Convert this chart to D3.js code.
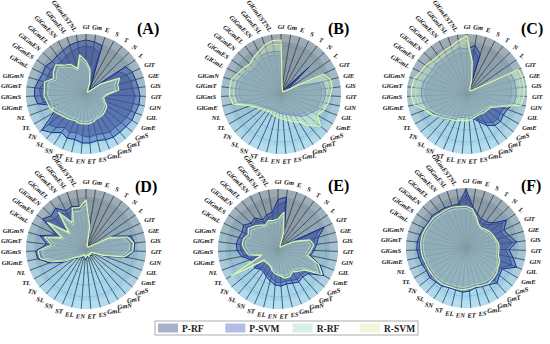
<!DOCTYPE html>
<html>
<head>
<meta charset="utf-8">
<script src="https://cdn.jsdelivr.net/npm/d3@7"></script>
<style>
html, body { margin: 0; padding: 0; background: #fff; }
svg { display: block; font-family: "Liberation Serif", "Times New Roman", serif; }
</style>
</head>
<body>
<svg id="chart" width="550" height="344"></svg>
<script>
const categories = ['Gl', 'Gm', 'E', 'S', 'T', 'N', 'L', 'GlT', 'GlE', 'GlS', 'GlT', 'GlN', 'GlL',
  'GmE', 'GmS', 'GmT', 'GmN', 'GmL', 'ES', 'ET', 'EN', 'EL', 'ST', 'SN', 'SL', 'TN', 'TL', 'NL',
  'GlGmE', 'GlGmS', 'GlGmT', 'GlGmN', 'GlGmL', 'GlGmES', 'GlGmEN', 'GlGmEL', 'GlGmESN', 'GlGmESL', 'GlGmESTNL'];

const seriesNames = ['P-RF', 'P-SVM', 'R-RF', 'R-SVM'];

// values, 0 = centre, 1 = rim
const A_PRF = [.8,.78,.72,.15,.08,.1,.66,.75,.78,.78,.82,.8,.8,.78,.76,.74,.75,.72,.7,.72,.7,.66,.7,.66,.75,.8,.55,.5,.72,.76,.78,.72,.7,.72,.7,.68,.72,.75,.78];
const A_PSVM = [.9,.88,.85,.2,.1,.12,.8,.85,.86,.88,.9,.9,.88,.88,.86,.85,.85,.83,.8,.82,.82,.78,.8,.76,.86,.95,.62,.55,.82,.86,.86,.82,.8,.82,.78,.8,.82,.86,.88];
const A_RRF = [.5,.38,.18,.05,.04,.05,.28,.56,.5,.5,.32,.28,.3,.36,.38,.4,.42,.42,.44,.46,.46,.46,.44,.46,.48,.5,.55,.6,.6,.64,.64,.66,.55,.6,.64,.56,.5,.42,.6];
const A_RSVM = [.55,.42,.2,.05,.04,.05,.3,.62,.55,.55,.35,.3,.33,.4,.42,.44,.45,.45,.48,.5,.5,.5,.48,.5,.52,.55,.6,.65,.66,.7,.7,.72,.6,.66,.7,.6,.56,.45,.66];

const B_PRF = [.64,.14,.09,.07,.08,.58,.1,.28,.66,.68,.68,.66,.64,.55,.5,.46,.38,.35,.32,.3,.3,.28,.28,.28,.3,.33,.38,.46,.66,.7,.7,.7,.66,.64,.6,.64,.66,.66,.66];
const B_PSVM = [.7,.15,.1,.08,.1,.65,.12,.3,.72,.74,.74,.72,.7,.6,.55,.5,.42,.38,.35,.33,.32,.3,.3,.3,.33,.36,.42,.5,.72,.75,.76,.76,.72,.7,.66,.7,.72,.72,.72];
const B_RRF = [.82,.11,.07,.05,.05,.05,.09,.72,.8,.8,.76,.74,.7,.65,.78,.64,.5,.46,.42,.39,.37,.35,.33,.32,.35,.37,.42,.5,.76,.8,.8,.8,.74,.7,.66,.7,.74,.8,.84];
const B_RSVM = [.9,.12,.08,.06,.05,.06,.1,.78,.86,.86,.82,.8,.76,.7,.85,.7,.55,.5,.45,.42,.4,.38,.36,.35,.38,.4,.45,.55,.82,.86,.86,.86,.8,.76,.72,.76,.8,.86,.9];

const C_PRF = [.68,.75,.62,.09,.07,.09,.13,.72,.75,.75,.75,.72,.66,.64,.66,.64,.56,.46,.38,.36,.36,.36,.4,.45,.5,.55,.6,.64,.68,.7,.7,.68,.66,.64,.66,.64,.66,.68,.7];
const C_PSVM = [.75,.82,.7,.1,.08,.1,.15,.8,.82,.82,.82,.8,.72,.7,.72,.7,.62,.5,.42,.4,.4,.4,.45,.5,.55,.6,.65,.7,.74,.76,.76,.75,.72,.7,.72,.7,.72,.74,.78];
const C_RRF = [.9,.52,.22,.09,.07,.07,.11,.88,.9,.9,.88,.85,.56,.42,.4,.38,.37,.37,.39,.4,.42,.42,.44,.46,.5,.55,.62,.7,.82,.86,.86,.84,.8,.78,.75,.75,.76,.78,.84];
const C_RSVM = [.97,.55,.25,.1,.08,.08,.12,.95,.96,.96,.95,.92,.6,.45,.43,.42,.4,.4,.42,.44,.45,.45,.48,.5,.55,.6,.68,.75,.9,.93,.93,.92,.86,.84,.8,.8,.82,.84,.9];

const D_PRF = [.7,.4,.07,.05,.05,.05,.09,.45,.72,.76,.74,.64,.32,.13,.11,.13,.11,.14,.11,.13,.16,.11,.13,.14,.18,.22,.4,.6,.76,.78,.6,.74,.5,.8,.72,.74,.66,.7,.68];
const D_PSVM = [.76,.45,.08,.06,.06,.06,.1,.5,.78,.82,.8,.7,.35,.15,.12,.15,.12,.16,.12,.15,.18,.12,.15,.16,.2,.25,.45,.65,.82,.84,.66,.8,.55,.88,.8,.85,.72,.75,.72];
const D_RRF = [.76,.36,.05,.04,.04,.04,.07,.4,.66,.74,.72,.6,.27,.1,.09,.1,.09,.12,.09,.1,.13,.09,.1,.12,.16,.2,.36,.55,.72,.74,.52,.66,.4,.72,.36,.7,.45,.66,.64];
const D_RSVM = [.82,.4,.06,.05,.05,.05,.08,.45,.72,.8,.78,.65,.3,.12,.1,.12,.1,.14,.1,.12,.15,.1,.12,.14,.18,.22,.4,.6,.78,.8,.58,.72,.45,.78,.4,.76,.5,.72,.7];

const E_PRF = [.74,.8,.32,.11,.07,.05,.09,.78,.64,.6,.55,.5,.7,.8,.6,.57,.6,.57,.55,.57,.55,.5,.46,.42,.42,.46,.42,.46,.57,.62,.64,.62,.6,.64,.57,.6,.5,.55,.57];
const E_PSVM = [.82,.88,.35,.12,.08,.06,.1,.85,.7,.65,.6,.55,.75,.88,.65,.62,.65,.62,.6,.62,.6,.55,.5,.45,.45,.5,.45,.5,.62,.68,.7,.68,.66,.7,.62,.65,.55,.6,.62];
const E_RRF = [.46,.56,.27,.09,.05,.05,.07,.27,.5,.55,.5,.46,.66,.78,.5,.46,.42,.46,.46,.42,.38,.35,.3,.28,.28,.28,.85,.28,.46,.5,.55,.55,.5,.55,.5,.46,.42,.46,.44];
const E_RSVM = [.5,.62,.3,.1,.06,.05,.08,.3,.55,.6,.55,.5,.72,.85,.55,.5,.45,.5,.5,.45,.42,.38,.32,.3,.3,.3,.9,.3,.5,.55,.6,.6,.55,.6,.55,.5,.45,.5,.48];

const F_PRF = [.9,.66,.56,.5,.5,.56,.74,.64,.68,.78,.66,.74,.82,.66,.68,.72,.68,.66,.64,.68,.7,.68,.68,.7,.72,.74,.72,.74,.76,.78,.78,.76,.74,.72,.74,.72,.72,.7,.72];
const F_PSVM = [.98,.7,.6,.55,.55,.6,.82,.7,.75,.85,.72,.8,.9,.7,.72,.78,.72,.7,.68,.72,.74,.72,.72,.75,.76,.78,.76,.78,.8,.82,.82,.8,.78,.76,.78,.76,.76,.74,.75];
const F_RRF = [.66,.62,.52,.44,.4,.42,.45,.47,.5,.52,.52,.52,.56,.6,.62,.64,.65,.64,.62,.64,.66,.66,.66,.68,.68,.68,.68,.68,.7,.71,.72,.72,.71,.7,.7,.68,.68,.68,.66];
const F_RSVM = [.7,.66,.55,.45,.42,.45,.48,.5,.52,.55,.55,.55,.6,.62,.66,.68,.7,.68,.66,.68,.7,.7,.7,.72,.72,.72,.72,.72,.74,.75,.76,.76,.75,.74,.74,.72,.72,.72,.7];

const gridLevels = [0.2, 0.4, 0.6, 0.8];

const panels = [
  { letter: '(A)', cx: 86, cy: 94, lx: 137, ly: 34, data: [A_PRF, A_PSVM, A_RRF, A_RSVM] },
  { letter: '(B)', cx: 281, cy: 94, lx: 328, ly: 34, data: [B_PRF, B_PSVM, B_RRF, B_RSVM] },
  { letter: '(C)', cx: 467, cy: 94, lx: 521, ly: 34, data: [C_PRF, C_PSVM, C_RRF, C_RSVM] },
  { letter: '(D)', cx: 86, cy: 249, lx: 135, ly: 192, data: [D_PRF, D_PSVM, D_RRF, D_RSVM] },
  { letter: '(E)', cx: 278, cy: 249, lx: 328, ly: 191, data: [E_PRF, E_PSVM, E_RRF, E_RSVM] },
  { letter: '(F)', cx: 466, cy: 248, lx: 521, ly: 191, data: [F_PRF, F_PSVM, F_RRF, F_RSVM] }
];

const styles = [
  { fill: '#4d5a8c', fo: 0.5, stroke: '#2f4186', sw: 0.8 },
  { fill: '#2f4ea8', fo: 0.42, stroke: '#1a2f8a', sw: 1 },
  { fill: '#b6ead8', fo: 0.3, stroke: '#a6e2cc', sw: 0.8 },
  { fill: '#e4f6c6', fo: 0.28, stroke: '#dcf7a6', sw: 1.2 }
];
const swatch = ['#a9b1c9', '#b3bde7', '#d7efe8', '#eff7dd'];

const R = 60;
const n = categories.length;
const svg = d3.select('#chart');
const rad = d3.scaleLinear().domain([0, 1]).range([0, R]);
const ang = d3.scaleLinear().domain([0, n]).range([0, 2 * Math.PI]);
const bg = d3.scaleLinear().domain([0, 0.5, 1]).range(['#8b99a4', '#91b5c9', '#a5d9f1']);

const line = d3.lineRadial()
  .angle((d, i) => ang(i))
  .radius((d) => rad(d))
  .curve(d3.curveLinearClosed);

panels.forEach((p) => {
  const g = svg.append('g').attr('transform', `translate(${p.cx},${p.cy})`);

  // shaded sectors, grey at the top, pale blue at the bottom
  categories.forEach((c, i) => {
    const mid = ang(i + 0.5);
    g.append('path')
      .attr('d', d3.arc()({ innerRadius: 0, outerRadius: R, startAngle: ang(i), endAngle: ang(i + 1) }))
      .attr('fill', bg((1 - Math.cos(mid)) / 2));
  });
  g.append('path')
    .attr('d', d3.arc()({ innerRadius: rad(0.87), outerRadius: R, startAngle: 0, endAngle: 2 * Math.PI }))
    .attr('fill', '#fff').attr('opacity', 0.16);

  g.selectAll('.grid').data(gridLevels).join('circle')
    .attr('r', (d) => rad(d))
    .attr('fill', 'none')
    .attr('stroke', '#5d6873')
    .attr('stroke-width', 0.4)
    .attr('stroke-dasharray', '1.5,1.5');

  g.selectAll('.spoke').data(categories).join('line')
    .attr('x1', 0).attr('y1', 0)
    .attr('x2', (d, i) => R * Math.sin(ang(i)))
    .attr('y2', (d, i) => -R * Math.cos(ang(i)))
    .attr('stroke', '#1e2428')
    .attr('stroke-width', 0.7);

  p.data.forEach((vals, k) => {
    const s = styles[k];
    g.append('path')
      .attr('d', line(vals))
      .attr('fill', s.fill).attr('fill-opacity', s.fo)
      .attr('stroke', s.stroke).attr('stroke-width', s.sw)
      .attr('stroke-linejoin', 'round');
  });

  categories.forEach((c, i) => {
    const deg = i * 360 / n;
    const a = ang(i);
    const sn = Math.sin(a), cs = Math.cos(a);
    const t = g.append('text')
      .attr('dy', '0.35em')
      .attr('font-size', 6.6)
      .attr('font-style', 'italic')
      .attr('font-weight', 'bold')
      .attr('fill', '#111')
      .text(c);
    if (deg >= 290) {
      // upper-left labels lean in toward the rim
      const rr = R + 4;
      t.attr('text-anchor', 'end')
        .attr('transform', `translate(${rr * sn},${-rr * cs}) rotate(${30 + (deg - 295) * 0.42})`);
    } else {
      const w = t.node().getComputedTextLength();
      const rr = R + 5;
      let rot = 0;
      if (deg <= 62) rot = deg * 0.55;
      else if (deg > 125 && deg < 235) rot = (deg - 180) * 0.3;
      const x = rr * sn + sn * w / 2;
      const y = -rr * cs - cs * 2.5;
      t.attr('text-anchor', 'middle')
        .attr('transform', `translate(${x},${y}) rotate(${rot})`);
    }
  });

  svg.append('text')
    .attr('x', p.lx).attr('y', p.ly)
    .attr('font-size', 16).attr('font-weight', 'bold').attr('fill', '#000')
    .text(p.letter);
});

// legend
const leg = svg.append('g').attr('transform', 'translate(155,321)');
leg.append('rect').attr('width', 263).attr('height', 14)
  .attr('fill', '#fff').attr('stroke', '#9a9a9a').attr('stroke-width', 0.8);
const legX = d3.scalePoint().domain(seriesNames).range([3, 205]);
seriesNames.forEach((name, k) => {
  leg.append('rect').attr('x', legX(name)).attr('y', 2.5).attr('width', 20).attr('height', 9).attr('fill', swatch[k]);
  leg.append('text').attr('x', legX(name) + 24).attr('y', 10.5)
    .attr('font-size', 9.5).attr('font-weight', 'bold').attr('fill', '#222').text(name);
});
</script>
</body>
</html>
